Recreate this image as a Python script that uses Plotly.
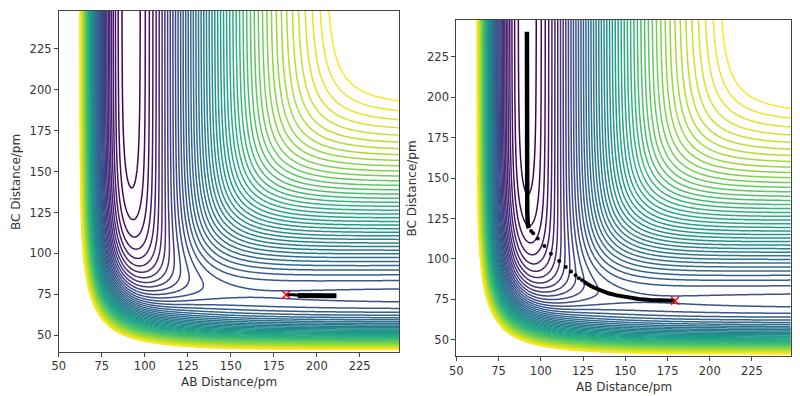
import numpy as np
import plotly.graph_objects as go

# ---------------- model parameters (eV, pm) ----------------
D_HF, BETA_HF, RE_HF, SATO_HF = 6.122, 0.022187, 91.70, 0.167
D_HH, BETA_HH, RE_HH, SATO_HH = 4.772, 0.019426, 74.19, 0.20

AB_RANGE = [50, 248]
BC_RANGE = [40, 248]
TICKS = [50, 75, 100, 125, 150, 175, 200, 225]

LEVEL_STEP = 0.1
LEVEL_MAX = -0.9
INNER_U_BC = 140.0   # BC at which the innermost product-valley contour closes

# trajectory 1 (left panel, non-reactive)
traj1a_ab = [182.5, 184, 186, 188, 189.5]
traj1a_bc = [74.8, 74.9, 74.8, 74.6, 74.4]
traj1b_ab = [189.0, 191, 194, 197, 200, 203, 206, 209, 211.5]
traj1b_bc = [74.3, 74.2, 74.1, 74.2, 74.1, 74.1, 74.2, 74.1, 74.1]
start1 = (182.2, 74.8)

# trajectory 2 (right panel, reactive)
traj2a_ab = [179.5, 172, 165, 158, 151, 145, 140, 135.5, 131, 127.5, 125.5]
traj2a_bc = [74.2, 74.3, 74.6, 75.2, 76.2, 77.5, 78.8, 80.4, 82.5, 84.6, 86.0]
traj2b_ab = [124.5, 122.6, 120.6, 117.9, 114.8, 110.9, 106.0, 102.1, 98.2, 95.5, 94.3]
traj2b_bc = [86.9, 88.1, 89.9, 92.2, 95.1, 98.8, 103.3, 108.0, 112.6, 115.9, 117.3]
traj2c_ab = [93.0, 92.3, 92.0, 92.0, 91.9, 91.9, 91.8, 91.8]
traj2c_bc = [119.0, 121.0, 130.0, 150.0, 175.0, 200.0, 225.0, 240.6]
start2 = (179.5, 74.2)


def pair_terms(r, D, beta, re, s):
    x = np.exp(-beta * (r - re))
    f = D / (4.0 * (1.0 + s))
    q = f * ((3 + s) * x * x - (2 + 6 * s) * x)
    j = f * ((1 + 3 * s) * x * x - (6 + 2 * s) * x)
    return q, j


def leps(rab, rbc):
    qa, ja = pair_terms(rab, D_HF, BETA_HF, RE_HF, SATO_HF)
    qb, jb = pair_terms(rbc, D_HH, BETA_HH, RE_HH, SATO_HH)
    qc, jc = pair_terms(rab + rbc, D_HF, BETA_HF, RE_HF, SATO_HF)
    return qa + qb + qc - np.sqrt(0.5 * ((ja - jb) ** 2 + (jb - jc) ** 2 + (jc - ja) ** 2))


def floor_bc(b):
    a = np.linspace(70, 140, 1401)
    return leps(a, b).min()


ab = np.arange(AB_RANGE[0], AB_RANGE[1] + 0.001, 0.5)
bc = np.arange(BC_RANGE[0], BC_RANGE[1] + 0.001, 0.5)
AB, BC = np.meshgrid(ab, bc)
V = leps(AB, BC)
V = np.round(np.clip(V, -10, 2.0), 4)

L0 = floor_bc(INNER_U_BC)
NLEV = int(round((LEVEL_MAX - L0) / LEVEL_STEP))
LEND = L0 + NLEV * LEVEL_STEP

fig = go.Figure()


def add_panel(xa, ya):
    fig.add_trace(go.Contour(
        x=ab, y=bc, z=V, xaxis=xa, yaxis=ya,
        autocontour=False,
        contours=dict(coloring="lines", start=L0, end=LEND + 1e-6, size=LEVEL_STEP, showlabels=False),
        colorscale="Viridis", zauto=False, zmin=L0, zmax=LEND,
        line=dict(width=1.5, smoothing=1), showscale=False, hoverinfo="skip"))


add_panel("x", "y")
add_panel("x2", "y2")


def add_line(xs, ys, xa, ya, w):
    fig.add_trace(go.Scatter(x=xs, y=ys, xaxis=xa, yaxis=ya, mode="lines",
                             line=dict(color="black", width=w), hoverinfo="skip"))


def add_start(pt, xa, ya):
    fig.add_trace(go.Scatter(x=[pt[0]], y=[pt[1]], xaxis=xa, yaxis=ya, mode="markers",
                             marker=dict(symbol="x-thin", size=8, line=dict(color="red", width=1.5)),
                             hoverinfo="skip"))


# left trajectory
add_line(traj1a_ab, traj1a_bc, "x", "y", 3.0)
add_line(traj1b_ab, traj1b_bc, "x", "y", 5.0)
add_start(start1, "x", "y")
# right trajectory
add_line(traj2a_ab, traj2a_bc, "x2", "y2", 4.0)
fig.add_trace(go.Scatter(x=traj2b_ab, y=traj2b_bc, xaxis="x2", yaxis="y2", mode="markers",
                         marker=dict(color="black", size=4), hoverinfo="skip"))
add_line(traj2c_ab, traj2c_bc, "x2", "y2", 4.5)
add_start(start2, "x2", "y2")

axis_common = dict(showgrid=False, zeroline=False, showline=True, mirror=True,
                   linecolor="#444", linewidth=1, ticks="outside", ticklen=4,
                   tickcolor="#444", tickfont=dict(size=11.5, color="#333"),
                   tickvals=TICKS)

fig.update_layout(
    width=800, height=396, margin=dict(l=0, r=0, t=0, b=0),
    paper_bgcolor="white", plot_bgcolor="white", showlegend=False,
    font=dict(family="DejaVu Sans", color="#333"),
    xaxis=dict(domain=[0.0654, 0.4946], range=AB_RANGE, anchor="y", **axis_common),
    yaxis=dict(domain=[0.1119, 0.9722], range=BC_RANGE, anchor="x", **axis_common),
    xaxis2=dict(domain=[0.5666, 0.9884], range=AB_RANGE, anchor="y2", **axis_common),
    yaxis2=dict(domain=[0.101, 0.9503], range=BC_RANGE, anchor="x2", **axis_common),
)

for txt, px, py in [("AB Distance/pm", 224, 382), ("AB Distance/pm", 622, 387)]:
    fig.add_annotation(text=txt, xref="paper", yref="paper", x=px / 800, y=1 - py / 396,
                       showarrow=False, font=dict(size=12, color="#333"),
                       xanchor="center", yanchor="middle")
for txt, px, py in [("BC Distance/pm", 9, 182), ("BC Distance/pm", 409, 188)]:
    fig.add_annotation(text=txt, xref="paper", yref="paper", x=px / 800, y=1 - py / 396,
                       showarrow=False, textangle=-90, font=dict(size=12, color="#333"),
                       xanchor="center", yanchor="middle")

fig.write_html("out.html")
